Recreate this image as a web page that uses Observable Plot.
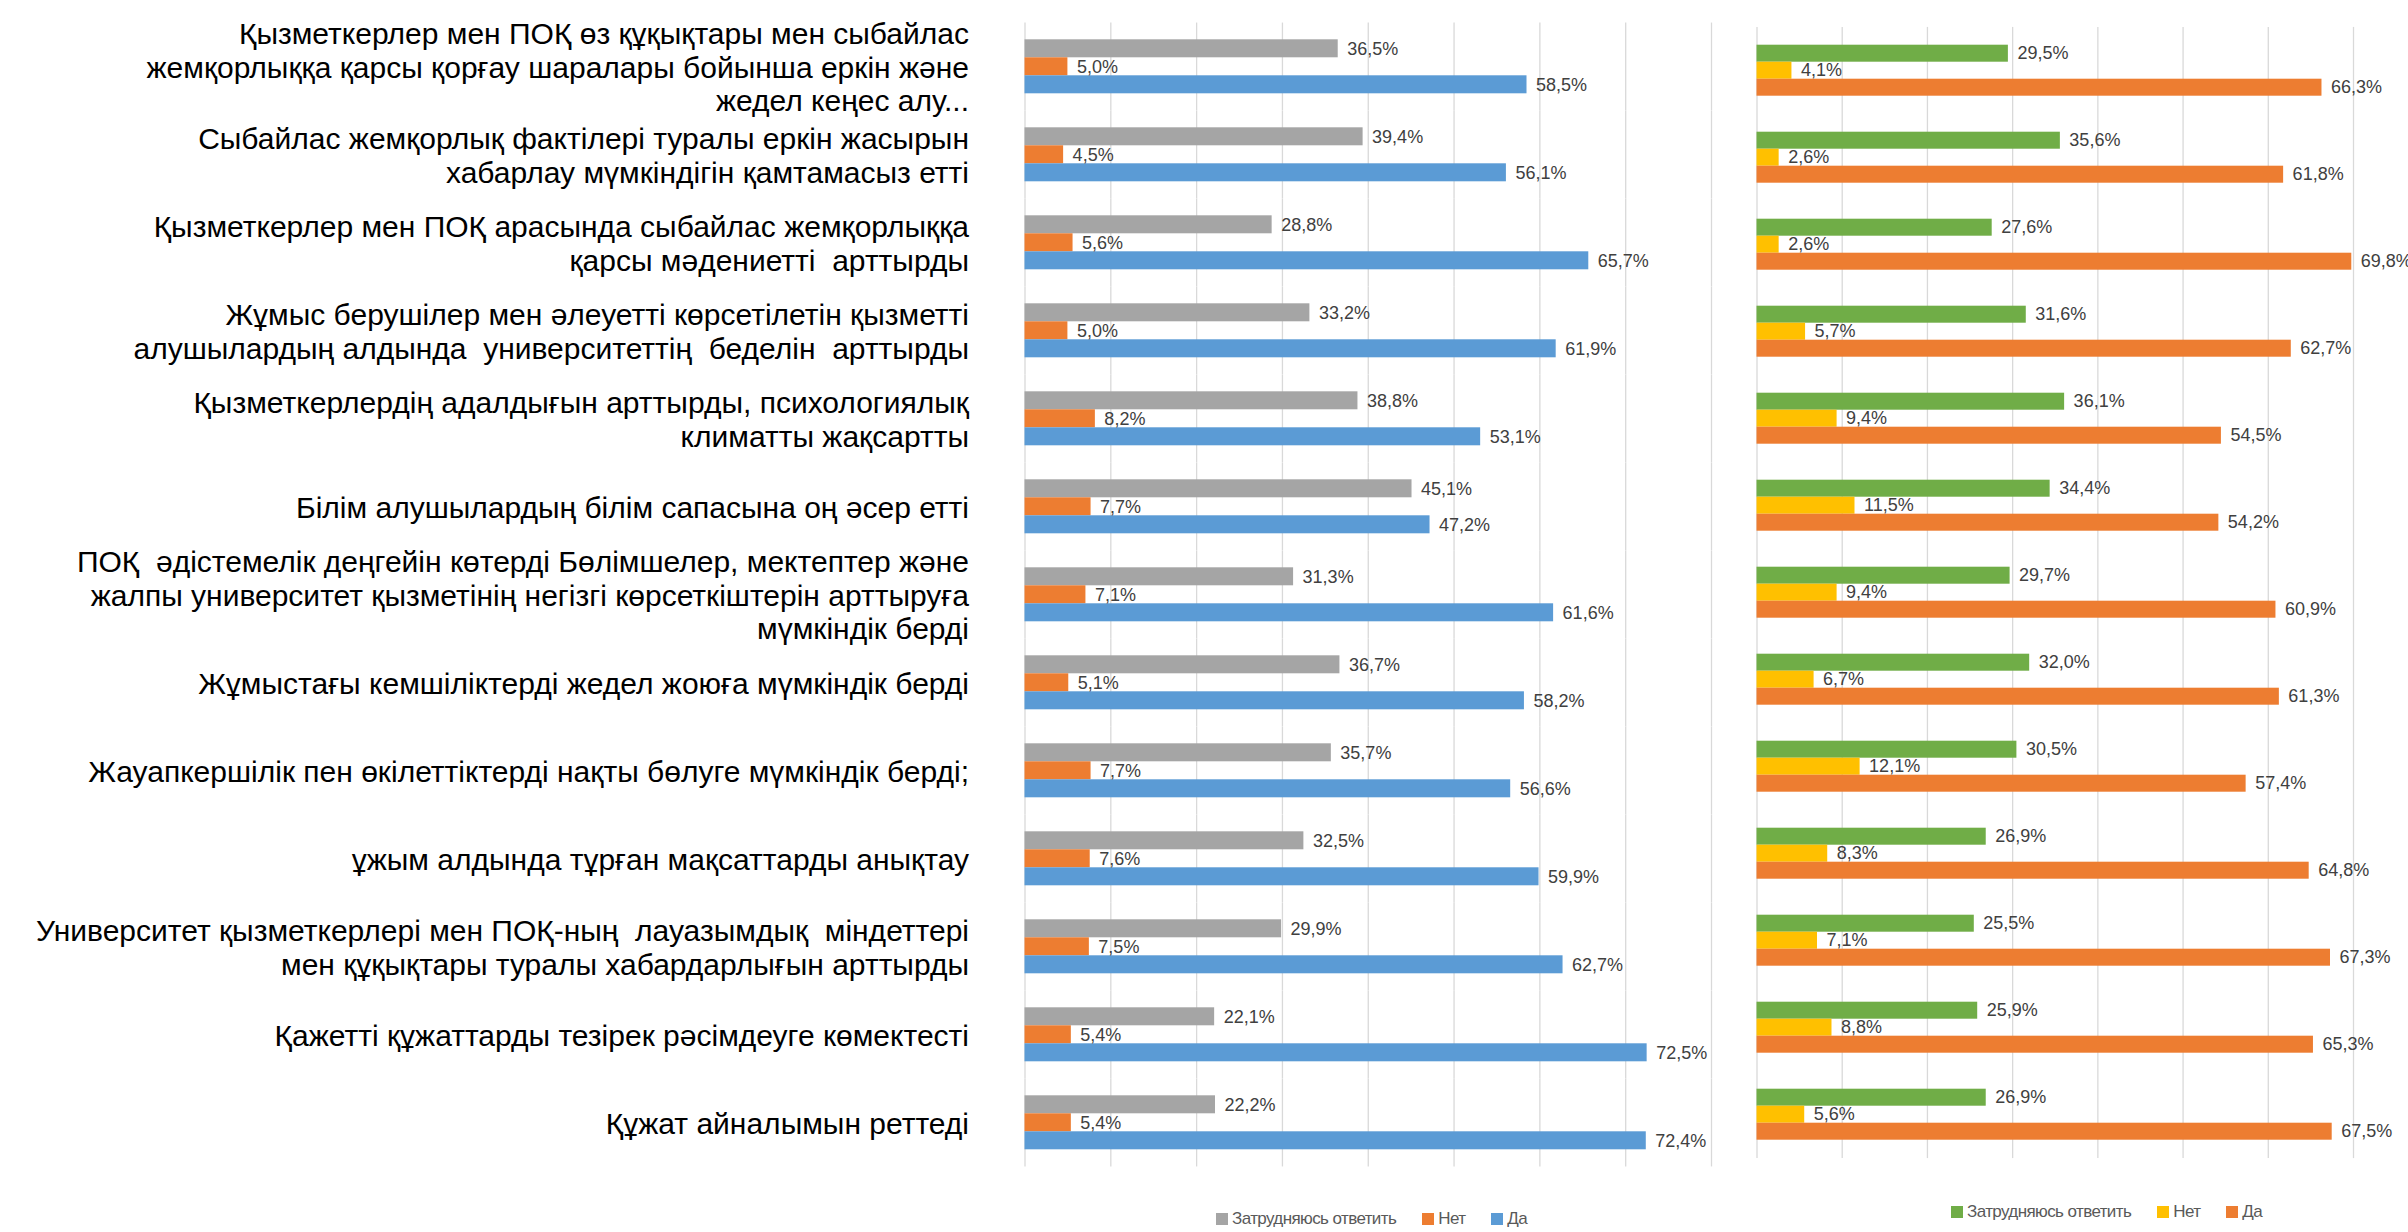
<!DOCTYPE html>
<html>
<head>
<meta charset="utf-8">
<script src="https://cdn.jsdelivr.net/npm/d3@7"></script>
<script src="https://cdn.jsdelivr.net/npm/@observablehq/plot@0.6"></script>
<style>
  html, body { margin: 0; padding: 0; background: #fff; overflow: hidden; }
  #wrap { position: relative; width: 2408px; height: 1232px; }
  #left { position: absolute; left: 0; top: 0; }
  #right { position: absolute; left: 1740px; top: 0; }
  .legend { position: absolute; display: flex; align-items: center; font-family: "Liberation Sans Narrow", "Arial Narrow", "Liberation Sans", sans-serif; font-size: 17px; letter-spacing: -0.6px; color: #595959; white-space: nowrap; }
  .legend .item { display: flex; align-items: center; margin-right: 26px; }
  .legend .item:last-child { margin-right: 0; }
  .legend .sw { width: 12px; height: 12px; margin-right: 4px; display: inline-block; }
  svg { overflow: visible; }
</style>
</head>
<body>
<div id="wrap">
  <div id="left"></div>
  <div id="right"></div>
  <div id="legendLeft" class="legend" style="left:1216px; top:1209px;"></div>
  <div id="legendRight" class="legend" style="left:1951px; top:1202px;"></div>
</div>
<script>
const categories = [
  "Қызметкерлер мен ПОҚ өз құқықтары мен сыбайлас\nжемқорлыққа қарсы қорғау шаралары бойынша еркін және\nжедел кеңес алу...",
  "Сыбайлас жемқорлық фактілері туралы еркін жасырын\nхабарлау мүмкіндігін қамтамасыз етті",
  "Қызметкерлер мен ПОҚ арасында сыбайлас жемқорлыққа\nқарсы мәдениетті  арттырды",
  "Жұмыс берушілер мен әлеуетті көрсетілетін қызметті\nалушылардың алдында  университеттің  беделін  арттырды",
  "Қызметкерлердің адалдығын арттырды, психологиялық\nклиматты жақсартты",
  "Білім алушылардың білім сапасына оң әсер етті",
  "ПОҚ  әдістемелік деңгейін көтерді Бөлімшелер, мектептер және\nжалпы университет қызметінің негізгі көрсеткіштерін арттыруға\nмүмкіндік берді",
  "Жұмыстағы кемшіліктерді жедел жоюға мүмкіндік берді",
  "Жауапкершілік пен өкілеттіктерді нақты бөлуге мүмкіндік берді;",
  "ұжым алдында тұрған мақсаттарды анықтау",
  "Университет қызметкерлері мен ПОҚ-ның  лауазымдық  міндеттері\nмен құқықтары туралы хабардарлығын арттырды",
  "Қажетті құжаттарды тезірек рәсімдеуге көмектесті",
  "Құжат айналымын реттеді"
];

const seriesNames = ["Затрудняюсь ответить", "Нет", "Да"];

const leftUnsure = [36.5, 39.4, 28.8, 33.2, 38.8, 45.1, 31.3, 36.7, 35.7, 32.5, 29.9, 22.1, 22.2];
const leftNo     = [5.0, 4.5, 5.6, 5.0, 8.2, 7.7, 7.1, 5.1, 7.7, 7.6, 7.5, 5.4, 5.4];
const leftYes    = [58.5, 56.1, 65.7, 61.9, 53.1, 47.2, 61.6, 58.2, 56.6, 59.9, 62.7, 72.5, 72.4];

const rightUnsure = [29.5, 35.6, 27.6, 31.6, 36.1, 34.4, 29.7, 32.0, 30.5, 26.9, 25.5, 25.9, 26.9];
const rightNo     = [4.1, 2.6, 2.6, 5.7, 9.4, 11.5, 9.4, 6.7, 12.1, 8.3, 7.1, 8.8, 5.6];
const rightYes    = [66.3, 61.8, 69.8, 62.7, 54.5, 54.2, 60.9, 61.3, 57.4, 64.8, 67.3, 65.3, 67.5];

const leftColors  = ["#A5A5A5", "#ED7D31", "#5B9BD5"];
const rightColors = ["#70AD47", "#FFC000", "#ED7D31"];

const leftTicks  = [0, 10, 20, 30, 40, 50, 60, 70, 80];
const rightTicks = [0, 10, 20, 30, 40, 50, 60, 70];

function longData(u, n, y) {
  const cols = [u, n, y];
  return categories.flatMap((c, i) => seriesNames.map((s, j) => ({cat: c, series: s, value: cols[j][i]})));
}
const fmt = v => v.toFixed(1).replace(".", ",") + "%";
const valueFont = "'Liberation Sans Narrow', 'Arial Narrow', 'Liberation Sans', sans-serif";

function chart({data, colors, ticks, xmax, width, height, marginLeft, marginRight, marginTop, marginBottom, padInner, gap, labels}) {
  const marks = [
    Plot.ruleX(ticks, {stroke: "#d9d9d9", strokeWidth: 1.3, insetTop: -gap / 2, insetBottom: -gap / 2}),
    Plot.barX(data, {x: "value", y: "series", fy: "cat", fill: "series"}),
    Plot.text(data, {x: "value", y: "series", fy: "cat", text: d => fmt(d.value), textAnchor: "start", dx: 9, fontSize: 18, fill: "#404040", fontFamily: valueFont, style: {letterSpacing: "-0.9px"}})
  ];
  if (labels) {
    marks.push(Plot.axisFy({anchor: "left", tickSize: 0, tickPadding: 56, fontSize: 30, lineHeight: 1.12, fill: "#000", label: null, fontFamily: "'Liberation Sans', Arial, sans-serif", style: {letterSpacing: "0.6px"}}));
  }
  return Plot.plot({
    width, height, marginLeft, marginRight, marginTop, marginBottom,
    style: {background: "transparent", fontFamily: "'Liberation Sans', Arial, sans-serif"},
    x: {domain: [0, xmax], axis: null},
    y: {domain: seriesNames, axis: null, padding: 0},
    fy: {domain: categories, paddingInner: padInner, paddingOuter: padInner / 2, axis: null, label: null},
    color: {domain: seriesNames, range: colors},
    marks
  });
}

const leftStep = (1172 - 16.7) / 13;
const leftPad = 0.37;
document.getElementById("left").appendChild(chart({
  data: longData(leftUnsure, leftNo, leftYes), colors: leftColors, ticks: leftTicks, xmax: 80,
  width: 1740, height: 1190, marginLeft: 1024.5, marginRight: 29, marginTop: 16.7, marginBottom: 18,
  padInner: leftPad, gap: leftStep * leftPad, labels: true
}));

const rightStep = (1162 - 23.3) / 13;
const rightPad = 0.39;
document.getElementById("right").appendChild(chart({
  data: longData(rightUnsure, rightNo, rightYes), colors: rightColors, ticks: rightTicks, xmax: 70,
  width: 668, height: 1180, marginLeft: 16.5, marginRight: 55, marginTop: 23.3, marginBottom: 18,
  padInner: rightPad, gap: rightStep * rightPad, labels: false
}));

function legend(id, colors) {
  const el = document.getElementById(id);
  seriesNames.forEach((s, i) => {
    const it = document.createElement("div");
    it.className = "item";
    const sw = document.createElement("span");
    sw.className = "sw";
    sw.style.background = colors[i];
    const t = document.createElement("span");
    t.textContent = s;
    it.appendChild(sw); it.appendChild(t);
    el.appendChild(it);
  });
}
legend("legendLeft", leftColors);
legend("legendRight", rightColors);
</script>
</body>
</html>
